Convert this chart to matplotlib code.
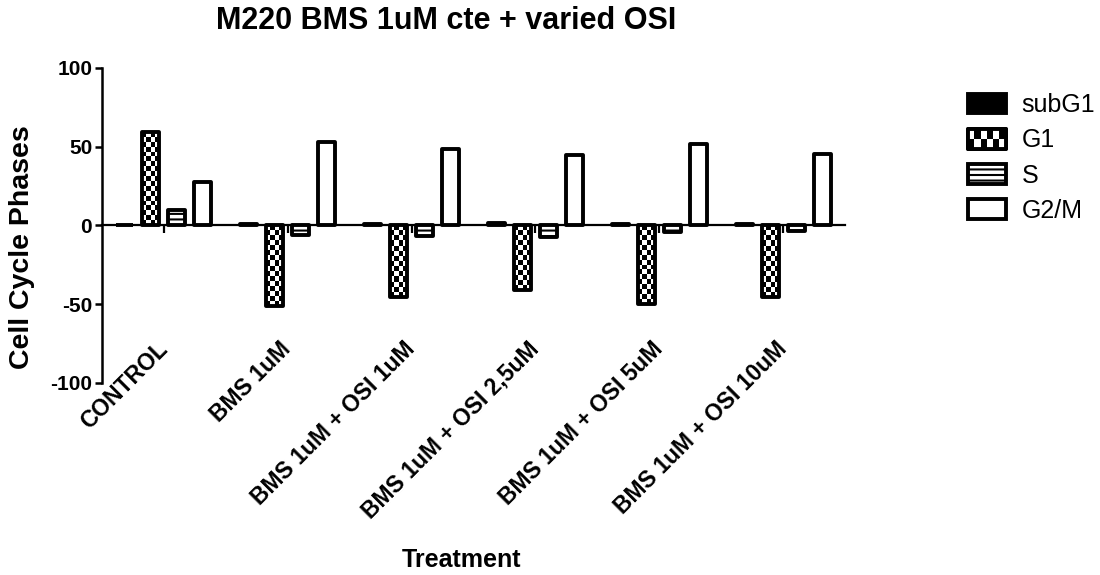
import numpy as np
import matplotlib
matplotlib.use('Agg')
import matplotlib.pyplot as plt
from matplotlib.patches import Patch, Rectangle
from matplotlib.legend_handler import HandlerPatch
import matplotlib.transforms as mtransforms

plt.rcParams['font.family'] = ['Liberation Sans', 'DejaVu Sans']
plt.rcParams['hatch.linewidth'] = 1.5
plt.rcParams['axes.unicode_minus'] = False

treatments = ['CONTROL', 'BMS 1uM', 'BMS 1uM + OSI 1uM', 'BMS 1uM + OSI 2,5uM',
              'BMS 1uM + OSI 5uM', 'BMS 1uM + OSI 10uM']
phases = ['subG1', 'G1', 'S', 'G2/M']
subg1 = [0.5, 1.2, 1.0, 1.3, 0.6, 0.7]
g1 = [59.0, -51.0, -45.4, -41.2, -50.1, -45.4]
s_phase = [9.5, -6.1, -6.8, -7.2, -4.0, -3.6]
g2m = [27.4, 53.0, 48.6, 44.4, 51.8, 45.4]

LW = 2.8


# black box with white squares, used for the G1 legend entry
class CheckerHandler(HandlerPatch):
    def create_artists(self, legend, orig_handle, xdescent, ydescent,
                       width, height, fontsize, trans):
        x0, y0 = -xdescent, -ydescent
        box = Rectangle((x0, y0), width, height, facecolor='black',
                        edgecolor='black', lw=LW, joinstyle='round', transform=trans)
        arts = [box]
        nrow, ncol = 2, 6
        cw, ch = width / ncol, height / nrow
        for r in range(nrow):
            for c in range(ncol):
                if (r + c) % 2:
                    arts.append(Rectangle((x0 + c * cw, y0 + r * ch), cw, ch,
                                          facecolor='white', lw=0, transform=trans))
        arts.append(Rectangle((x0, y0), width, height, facecolor='none',
                              edgecolor='black', lw=LW, joinstyle='round', transform=trans))
        return arts


fig = plt.figure(figsize=(11, 5.75), dpi=100)
ax = fig.add_axes([0.0927, 0.334, 0.6755, 0.548])
ax.set_xlim(-0.5, 5.5)
ax.set_ylim(-100, 100)

x = np.arange(len(treatments))
width = 0.138
step = 0.21

b0 = ax.bar(x - 1.5 * step, subg1, width, color='black', edgecolor='black', lw=LW, zorder=3)
b1 = ax.bar(x - 0.5 * step, g1, width, facecolor='none', edgecolor='black', lw=LW, zorder=3)
b2 = ax.bar(x + 0.5 * step, s_phase, width, facecolor='white', edgecolor='black',
            hatch='---', lw=LW, zorder=3)
b3 = ax.bar(x + 1.5 * step, g2m, width, facecolor='white', edgecolor='black', lw=LW, zorder=3)
for bars in (b0, b1, b2, b3):
    for b in bars:
        b.set_joinstyle('round')

# checkered fill for the G1 bars, clipped to each bar
ppu = ax.transData.transform((0, 1))[1] - ax.transData.transform((0, 0))[1]
for b in b1:
    h = b.get_height()
    nrows = max(1, int(round(abs(h) * ppu / 5)))
    grid = np.indices((nrows, 4)).sum(axis=0) % 2
    y_lo, y_hi = min(0, h), max(0, h)
    im = ax.imshow(grid, cmap='gray', vmin=0, vmax=1, origin='lower',
                   extent=(b.get_x(), b.get_x() + b.get_width(), y_lo, y_hi),
                   interpolation='nearest', aspect='auto', zorder=2)
    im.set_clip_path(b)
ax.set_xlim(-0.5, 5.5)
ax.set_ylim(-100, 100)

ax.spines['top'].set_visible(False)
ax.spines['right'].set_visible(False)
ax.spines['bottom'].set_position(('data', 0))
ax.spines['bottom'].set_linewidth(1.6)
ax.spines['left'].set_linewidth(1.8)

ax.set_yticks([-100, -50, 0, 50, 100])
ax.tick_params(axis='y', length=5, width=1.8, pad=2, labelsize=15)
for t in ax.get_yticklabels():
    t.set_fontweight('bold')

ax.set_xticks(x)
ax.set_xticklabels(treatments, rotation=45, ha='right', fontsize=16.5, fontweight='bold')
ax.tick_params(axis='x', length=6, width=1.6, pad=74.5)
shift = mtransforms.ScaledTranslation(8 / 100, 0, fig.dpi_scale_trans)
for t in ax.get_xticklabels():
    t.set_transform(t.get_transform() + shift)

proxy = Patch(facecolor='black', edgecolor='black')
fig.legend(handles=[b0, proxy, b2, b3], labels=phases,
           handler_map={proxy: CheckerHandler()},
           loc='upper left', bbox_to_anchor=(0.88, 0.838), frameon=False,
           fontsize=18, handlelength=1.5, handleheight=0.85, handletextpad=0.65,
           labelspacing=0.45, borderaxespad=0, borderpad=0)

fig.text(446 / 1100, 1 - 21 / 575, 'M220 BMS 1uM cte + varied OSI',
         ha='center', va='center', fontsize=22, fontweight='bold')
fig.text(22 / 1100, 1 - 247 / 575, 'Cell Cycle Phases', rotation=90,
         ha='center', va='center', fontsize=20.5, fontweight='bold')
fig.text(461 / 1100, 1 - 560 / 575, 'Treatment',
         ha='center', va='center', fontsize=18, fontweight='bold')

fig.savefig('out.png', dpi=100)
